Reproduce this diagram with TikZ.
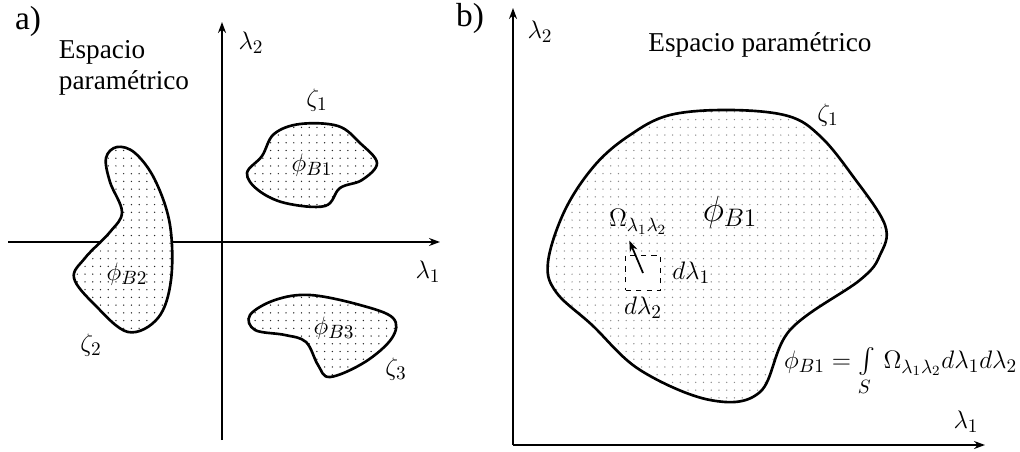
\documentclass[tikz,border=0pt]{standalone}
\usepackage{amsmath}
\usepackage{fontspec}
\setmainfont{Liberation Serif}
\usetikzlibrary{arrows.meta,patterns.meta,positioning}

\tikzdeclarepattern{
  name=puntos,
  type=uncolored,
  bounding box={(-1pt,-1pt) and (4pt,4pt)},
  tile size={(4.4pt,4.4pt)},
  code={\fill (0pt,0pt) circle (0.42pt);}
}
\tikzset{
  contorno/.style={line width=1.5pt, preaction={fill=white}, pattern=puntos, pattern color=black!85},
  eje/.style={->, line width=1.1pt},
}

\begin{document}
\begin{tikzpicture}[x=0.02cm, y=-0.02cm, >={Stealth[length=2.2mm,width=1.6mm]}, font=\fontsize{15.5}{18}\selectfont]
  \useasboundingbox (0,0) rectangle (1020,452);
  % a) tres regiones
  \begin{scope}
    \node (tituloA) at (28,21) {\fontsize{19}{21}\selectfont a)};
    \node[align=left] (espA) at (124,68) {Espacio\\paramétrico};
    \coordinate (xAi) at (8,242); \coordinate (xAd) at (440,242);
    \coordinate (yAb) at (222,440); \coordinate (yAa) at (222,22);
    \draw[eje] (xAi) -- (xAd);
    \draw[eje] (yAb) -- (yAa);
    \node (l2A) at (251,43) {$\lambda_2$}; \node (l1A) at (428,272) {$\lambda_1$};
    \draw[contorno] plot[smooth cycle, tension=0.6] coordinates {(247,173) (262,156) (274,134) (300,124) (338,126) (360,143) (377,163) (362,180) (340,188) (325,206) (285,203) (258,190)};
    \draw[contorno] plot[smooth cycle, tension=0.6] coordinates {(117,147) (135,153) (155,180) (170,225) (171,280) (158,318) (128,332) (95,305) (74,278) (85,258) (110,232) (122,212) (110,182) (106,158)};
    \draw[contorno] plot[smooth cycle, tension=0.6] coordinates {(250,315) (275,300) (310,295) (360,305) (393,318) (392,338) (365,362) (330,377) (318,365) (306,342) (285,335) (255,330)};
    \node (z1A) at (317,100) {$\zeta_1$}; \node (f1A) at (312,165) {$\phi_{B1}$};
    \node (z2A) at (91,345) {$\zeta_2$}; \node (f2A) at (127,274) {$\phi_{B2}$};
    \node (z3A) at (396,369) {$\zeta_3$}; \node (f3A) at (334,328) {$\phi_{B3}$};
  \end{scope}
  % b) una region
  \begin{scope}
    \node (tituloB) at (470,18) {\fontsize{19}{21}\selectfont b)};
    \node (espB) at (760,45) {Espacio paramétrico};
    \coordinate (oB) at (513,445); \coordinate (xBd) at (985,445); \coordinate (yBa) at (513,8);
    \draw[eje] (oB) -- (xBd);
    \draw[eje] (oB) -- (yBa);
    \node (l2B) at (540,32) {$\lambda_2$}; \node (l1B) at (966,422) {$\lambda_1$};
    \draw[contorno, pattern color=black!45] plot[smooth cycle, tension=0.6] coordinates {(548,262) (565,210) (595,165) (630,135) (670,115) (730,110) (788,116) (820,136) (852,175) (885,225) (880,255) (860,280) (790,330) (760,392) (710,400) (640,370) (592,325) (556,292)};
    \node (z1B) at (828,115) {$\zeta_1$};
    \node (f1B) at (730,212) {\fontsize{20}{24}\selectfont $\phi_{B1}$};
    \node[draw, dashed, line width=0.7pt, minimum size=0.7cm, fill=white] (dA) at (643,273) {};
    \node (omega) at (638,222) {$\Omega_{\lambda_1\lambda_2}$};
    \draw[->, line width=1pt] (dA.center) -- (omega.-115);
    \node[right=1mm of dA] (dl1) {$d\lambda_1$};
    \node[below=0mm of dA] (dl2) {$d\lambda_2$};
    \node[anchor=west] (formula) at (778,372) {$\phi_{B1} = \int\limits_S\, \Omega_{\lambda_1\lambda_2} d\lambda_1 d\lambda_2$};
  \end{scope}
\end{tikzpicture}
\end{document}
